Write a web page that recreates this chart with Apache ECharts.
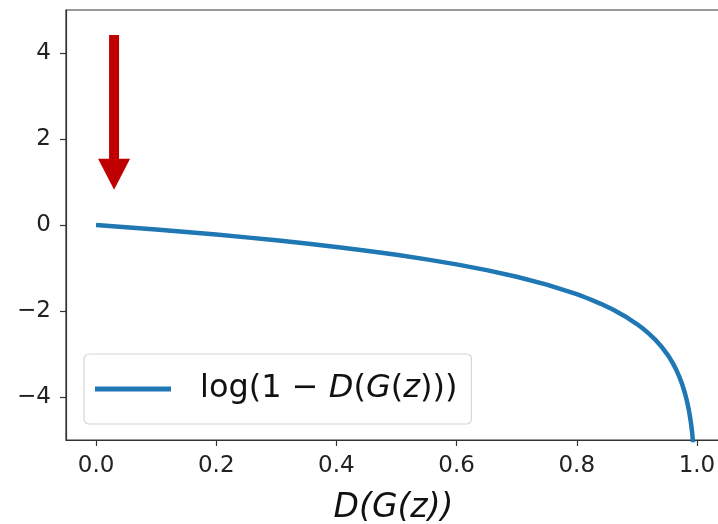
<!DOCTYPE html>
<html>
<head>
<meta charset="utf-8">
<script src="https://cdn.jsdelivr.net/npm/echarts@6/dist/echarts.min.js"></script>
<style>html,body{margin:0;padding:0;background:#fff}#c{width:718px;height:524px}</style>
</head>
<body>
<div id="c"></div>
<script>
// Values
var xValues = [0, 0.05, 0.1, 0.15, 0.2, 0.25, 0.3, 0.35, 0.4, 0.45, 0.5, 0.55, 0.6, 0.65, 0.7, 0.75, 0.8, 0.82, 0.84, 0.86, 0.88, 0.9, 0.91, 0.92, 0.93, 0.94, 0.95, 0.955, 0.96, 0.965, 0.97, 0.975, 0.98, 0.983, 0.986, 0.988, 0.99, 0.992, 0.995];
var yValues = [0, -0.051, -0.105, -0.163, -0.223, -0.288, -0.357, -0.431, -0.511, -0.598, -0.693, -0.799, -0.916, -1.05, -1.204, -1.386, -1.609, -1.715, -1.833, -1.966, -2.12, -2.303, -2.408, -2.526, -2.659, -2.813, -2.996, -3.101, -3.219, -3.352, -3.507, -3.689, -3.912, -4.075, -4.269, -4.423, -4.605, -4.828, -5.298];
var seriesName = 'log(1 − D(G(z)))';
var xTicks = [0, 0.2, 0.4, 0.6, 0.8, 1.0];
var yTicks = [-4, -2, 0, 2, 4];
var arrowX = [0.03];
var arrowStart = [4.42];
var arrowEnd = [0.82];

var curve = xValues.map(function (x, i) { return [x, yValues[i]]; });
var arrowData = arrowX.map(function (x, i) { return [x, arrowStart[i], arrowEnd[i]]; });

var font = 'DejaVu Sans';
var chart = echarts.init(document.getElementById('c'), null, {renderer: 'canvas'});
chart.setOption({
  animation: false,
  backgroundColor: '#ffffff',
  grid: {left: 66, top: 10, bottom: 84, right: -3, outerBoundsMode: 'none', containLabel: false,
    show: true, borderColor: '#333', borderWidth: 1.2, backgroundColor: 'transparent'},
  xAxis: {
    type: 'value', min: -0.05, max: 1.04,
    name: 'D(G(z))', nameLocation: 'middle', nameGap: 52,
    nameTextStyle: {fontFamily: font, fontSize: 33, fontStyle: 'italic', color: '#111'},
    axisLine: {show: true, onZero: false, lineStyle: {color: '#333', width: 1.2}},
    axisTick: {show: true, length: 6, lineStyle: {color: '#333', width: 1.2}, customValues: xTicks},
    axisLabel: {customValues: xTicks, margin: 15, fontFamily: font, fontSize: 23, color: '#222',
      formatter: function (v) { return v.toFixed(1); }},
    splitLine: {show: false}
  },
  yAxis: {
    type: 'value', min: -5, max: 5,
    axisLine: {show: true, onZero: false, lineStyle: {color: '#333', width: 1.2}},
    axisTick: {show: true, length: 6, lineStyle: {color: '#333', width: 1.2}, customValues: yTicks},
    axisLabel: {customValues: yTicks, margin: 15, fontFamily: font, fontSize: 23, color: '#222',
      formatter: function (v) { return (v < 0 ? '−' : '') + Math.abs(v); }},
    splitLine: {show: false}
  },
  legend: {
    data: [seriesName],
    left: 84, top: 354,
    orient: 'vertical',
    backgroundColor: '#fff', borderColor: '#d6d6d6', borderWidth: 1.2, borderRadius: 5,
    padding: [19, 14, 19, 11],
    icon: 'rect', itemWidth: 76, itemHeight: 5,
    formatter: function () { return '{a|log(1 − }{i|D}{a|(}{i|G}{a|(}{i|z}{a|)))}'; },
    textStyle: {
      padding: [0, 0, 0, 24],
      rich: {
        a: {fontFamily: font, fontSize: 32, color: '#111', lineHeight: 40},
        i: {fontFamily: font, fontSize: 32, fontStyle: 'italic', color: '#111', lineHeight: 40}
      }
    }
  },
  series: [
    {
      name: seriesName, type: 'line', data: curve, showSymbol: false, clip: true,
      lineStyle: {color: '#1f77b4', width: 4.5, cap: 'butt', join: 'round'}, itemStyle: {color: '#1f77b4'}
    },
    {
      name: 'arrow', type: 'custom', data: arrowData, clip: false, z: 5,
      encode: {x: 0, y: [1, 2]},
      renderItem: function (params, api) {
        var p1 = api.coord([api.value(0), api.value(1)]);
        var p2 = api.coord([api.value(0), api.value(2)]);
        var headLen = 31, headW = 16, shaftW = 5;
        var cx = p1[0];
        var baseY = p2[1] - headLen;
        return {
          type: 'polygon',
          shape: {points: [
            [cx - shaftW, p1[1]], [cx + shaftW, p1[1]], [cx + shaftW, baseY],
            [cx + headW, baseY], [cx, p2[1]], [cx - headW, baseY], [cx - shaftW, baseY]
          ]},
          style: {fill: '#c00000', stroke: null}
        };
      }
    }
  ]
});
</script>
</body>
</html>
